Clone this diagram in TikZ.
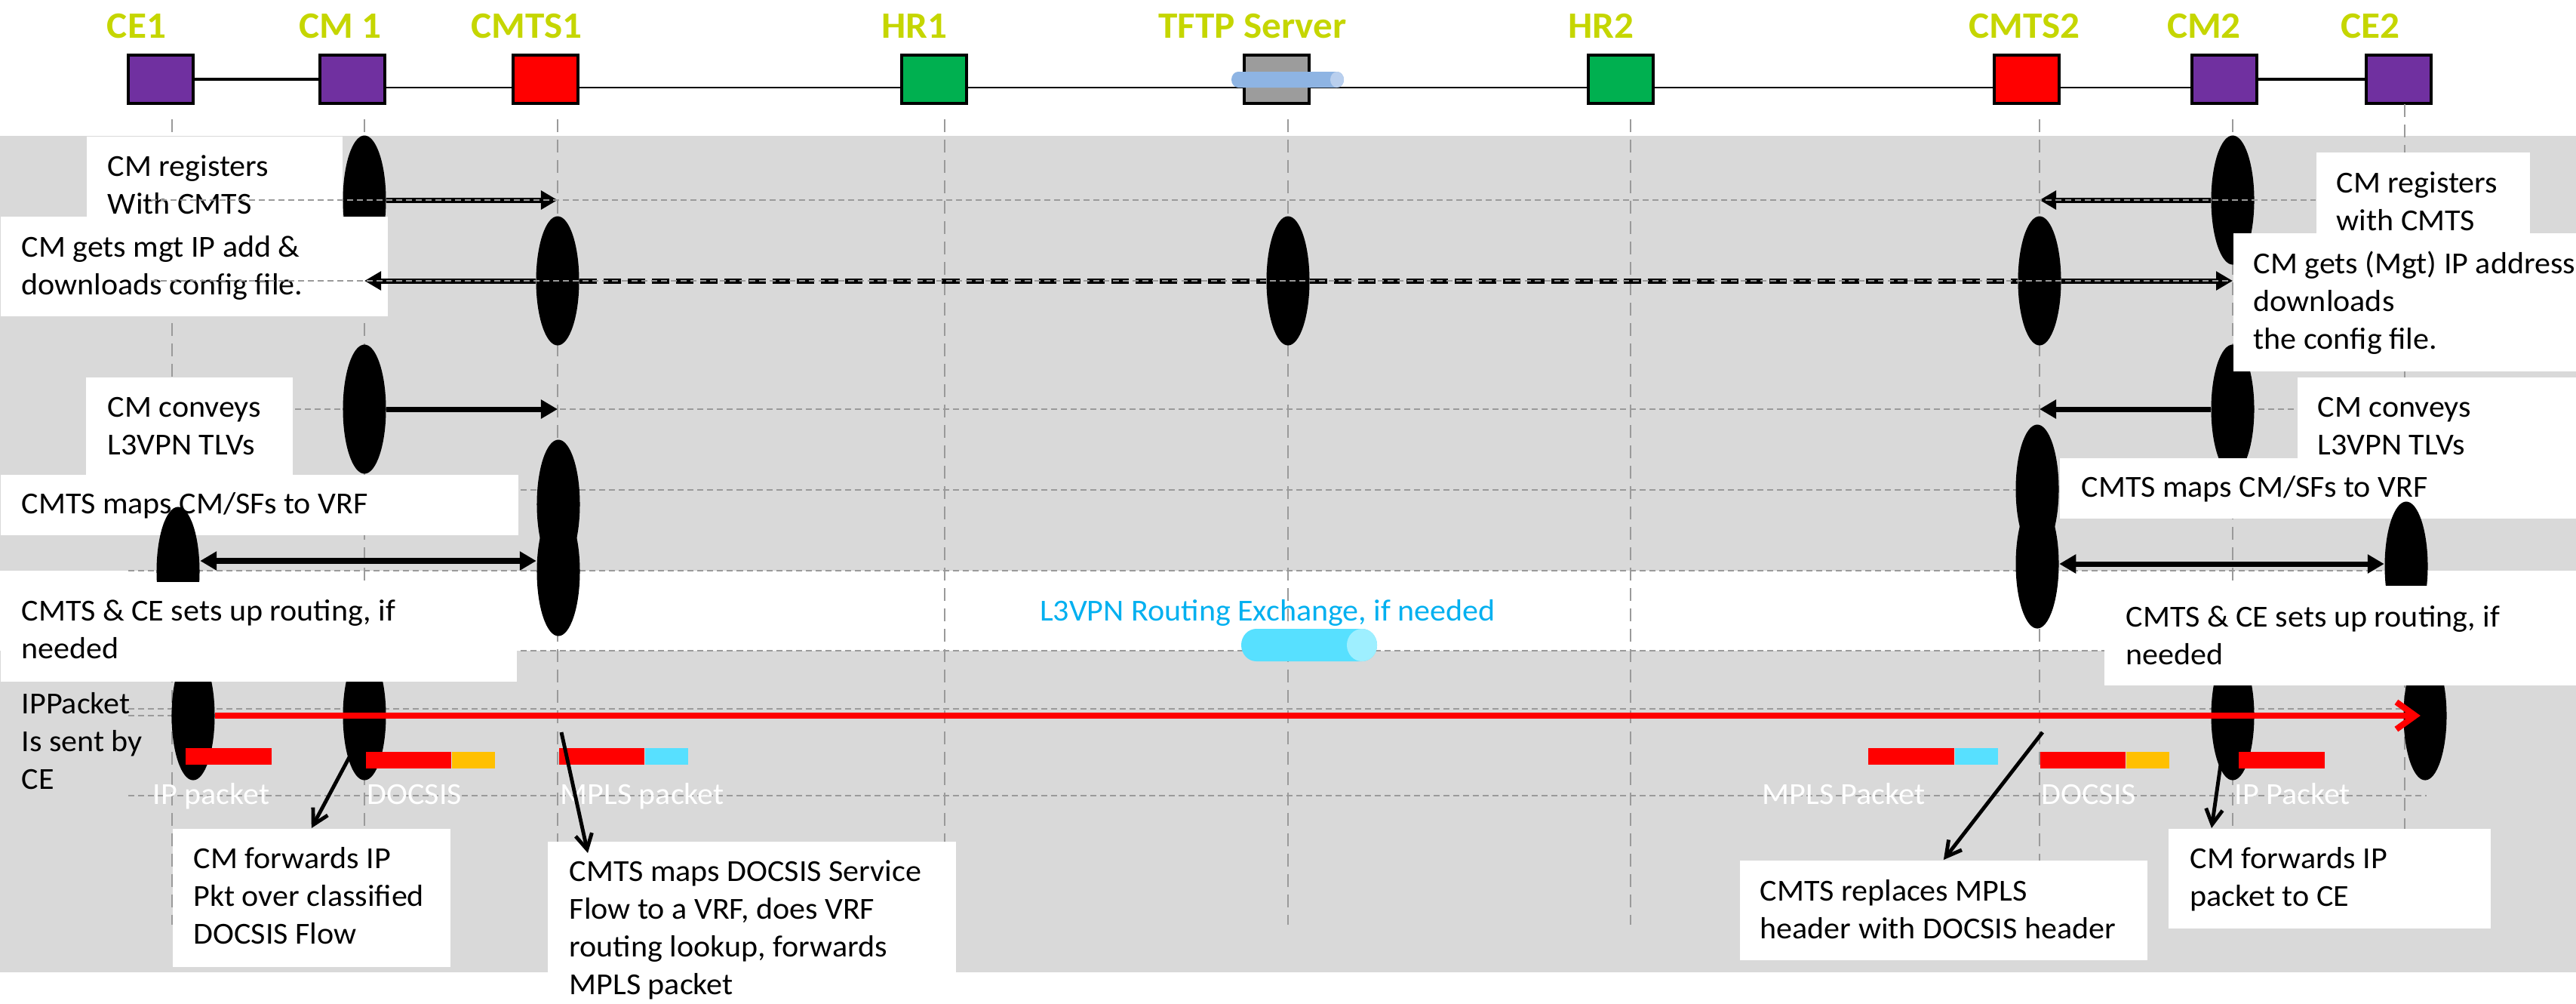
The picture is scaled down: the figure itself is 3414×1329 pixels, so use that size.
\documentclass[tikz,border=0pt]{standalone}
\usepackage{fontspec}
\setmainfont{Carlito}[FakeStretch=1.04]
\usetikzlibrary{shapes.geometric, arrows.meta, positioning, backgrounds}

\definecolor{bggray}{HTML}{D9D9D9}
\definecolor{rowgray}{HTML}{9A9A9A}
\definecolor{hdrgreen}{RGB}{197,214,0}
\definecolor{cmpurple}{HTML}{7030A0}
\definecolor{cmtsred}{HTML}{FF0000}
\definecolor{hrgreen}{HTML}{00B050}
\definecolor{srvgray}{HTML}{9C9C9C}
\definecolor{tftpblue}{HTML}{8EB4E3}
\definecolor{tftpcap}{HTML}{B9CFEE}
\definecolor{l3cyan}{HTML}{00B0F0}
\definecolor{cylcyan}{HTML}{57E0FF}
\definecolor{cylcap}{HTML}{9EEFFF}
\definecolor{docorange}{HTML}{FFC000}

\begin{document}
\begin{tikzpicture}[
		x=0.01cm, y=-0.01cm,
		font=\fontsize{11.5}{14.2}\selectfont,
		% Styles
		ent/.style={draw=black, line width=1pt, minimum width=0.86cm, minimum height=0.64cm, inner sep=0pt},
		hdr/.style={anchor=base, text=hdrgreen, font=\fontsize{14}{16}\selectfont\bfseries},
		life/.style={draw=rowgray, line width=0.5pt, dash pattern=on 0.17cm off 0.10cm},
		row/.style={draw=rowgray, line width=0.7pt, dash pattern=on 0.08cm off 0.05cm},
		act/.style={ellipse, fill=black, minimum width=0.57cm, minimum height=1.71cm, inner sep=0pt},
		wbox/.style={fill=white, anchor=north west, inner sep=0pt},
		txt/.style={anchor=base west, align=left, inner sep=0pt},
		pkt/.style={minimum height=0.22cm, inner sep=0pt},
		pktlbl/.style={anchor=base west, text=white, inner sep=0pt},
		msg/.style={line width=2pt, -{Triangle[length=0.22cm, width=0.24cm]}},
		msgboth/.style={line width=2pt, {Triangle[length=0.22cm, width=0.24cm]}-{Triangle[length=0.22cm, width=0.24cm]}},
		msgdash/.style={line width=2pt, dash pattern=on 0.23cm off 0.09cm},
		ipflow/.style={draw=red, line width=2.3pt, -{Straight Barb[length=0.25cm, width=0.36cm]}, shorten >=-0.23cm},
		callout/.style={line width=1.4pt, -{Straight Barb[length=0.2cm, width=0.22cm]}}
		]
		\useasboundingbox (0,0) rectangle (3414,1329);
		
		% =========================================================
		% 1. BACKGROUND BANDS
		% =========================================================
		\fill[bggray] (0,180) rectangle (3414,1288);
		\fill[white] (0,756) rectangle (3414,862);
		
		% =========================================================
		% 2. TOP ROW: the network elements
		% =========================================================
		\foreach \n/\x/\c in {ce1/213/cmpurple, cm1/467/cmpurple, cmts1/723/cmtsred, hr1/1238/hrgreen, tftp/1692/srvgray, hr2/2148/hrgreen, cmts2/2686/cmtsred, cm2/2948/cmpurple, ce2/3179/cmpurple}
		\node[ent, fill=\c] (\n) at (\x,105) {};
		
		\begin{scope}[on background layer]
			\draw[line width=1.3pt] (ce1) -- (cm1);
			\draw[line width=0.8pt] ([yshift=-0.11cm]cm1.east) -- ([yshift=-0.11cm]cm2.west);
			\draw[line width=1.3pt] (cm2) -- (ce2);
		\end{scope}
		
		% TFTP server drum
		\fill[tftpblue] (1641,95) -- (1772,95) arc[start angle=90, end angle=-90, x radius=0.09cm, y radius=0.105cm] -- (1641,116) arc[start angle=-90, end angle=-270, x radius=0.09cm, y radius=0.105cm] -- cycle;
		\fill[tftpcap] (1772,105.5) ellipse[x radius=0.09cm, y radius=0.105cm];
		
		\foreach \n/\t/\x in {ce1/CE1/181, cm1/CM 1/451, cmts1/CMTS1/698, hr1/HR1/1212, tftp/TFTP Server/1660, hr2/HR2/2122, cmts2/CMTS2/2683, cm2/CM2/2921, ce2/CE2/3141}
		\node[hdr] (\n-lbl) at (\x,50) {\t};
		
		% =========================================================
		% 3. LIFELINES AND ROWS
		% =========================================================
		\foreach \n/\x/\y in {ce1/228/158, cm1/483/158, cmts1/739/158, hr1/1252/158, tftp/1707/158, hr2/2161/158, cmts2/2703/158, cm2/2959/158, ce2/3187/138} {
			\coordinate (L-\n) at (\x,\y);
			\draw[life] (L-\n) -- (\x,1225);
		}
		\foreach \y in {542,649,756,862,939,948,1054}
		\draw[row] (170,\y) -- (3216,\y);
		
		% =========================================================
		% 4. STEPS: boxes and activations
		% (text nodes sit on the baseline of their last line)
		% =========================================================
		% Registration
		\node[wbox, minimum width=3.39cm, minimum height=1.06cm] (bA) at (114,180) {};
		\node[txt] (tA) at (142,283) {CM registers\\With CMTS};
		\node[wbox, minimum width=2.83cm, minimum height=1.07cm] (bC) at (3069,201) {};
		\node[txt] (tC) at (3096,305) {CM registers\\with CMTS};
		% L3VPN TLVs
		\node[wbox, minimum width=2.74cm, minimum height=1.29cm] (bE) at (113,499) {};
		\node[txt] (tE) at (142,602) {CM conveys\\L3VPN TLVs};
		\node[wbox, minimum width=3.70cm, minimum height=1.07cm] (bH) at (3044,499) {};
		\node[txt] (tH) at (3071,602) {CM conveys\\L3VPN TLVs};
		
		\node[act] (e1) at (483,265) {};
		\node[act] (e2) at (2959,265) {};
		\node[act] (e3) at (739,372) {};
		\node[act] (e4) at (1707,372) {};
		\node[act] (e5) at (2703,372) {};
		\node[act] (e6) at (483,542) {};
		\node[act] (e7) at (2959,542) {};
		
		% Config file and VRF mapping
		\node[wbox, minimum width=5.13cm, minimum height=1.32cm] (bB) at (0,286) {};
		\node[txt] (tB) at (28,390) {CM gets mgt IP add \&\\downloads config file.};
		\node[wbox, minimum width=4.55cm, minimum height=1.83cm] (bD) at (2959,308) {};
		\node[txt] (tD) at (2986,462) {CM gets (Mgt) IP address\\downloads\\the config file.};
		\node[wbox, minimum width=6.86cm, minimum height=0.80cm] (bF) at (0,628) {};
		\node[txt] (tF) at (28,680) {CMTS maps CM/SFs to VRF};
		\node[wbox, minimum width=6.85cm, minimum height=0.80cm] (bI) at (2729,606) {};
		\node[txt] (tI) at (2758,658) {CMTS maps CM/SFs to VRF};
		
		\node[act] (e8) at (740,668) {};
		\node[act] (e9) at (740,757) {};
		\node[act] (e10) at (2700,648) {};
		\node[act] (e11) at (2700,747) {};
		\node[act] (e12) at (236,757) {};
		\node[act] (e13) at (3189,750) {};
		\node[act] (e14) at (256,948) {};
		\node[act] (e15) at (483,948) {};
		\node[act] (e16) at (2959,948) {};
		\node[act] (e17) at (3214,948) {};
		
		% Routing and forwarding
		\node[wbox, minimum width=6.84cm, minimum height=1.32cm] (bG) at (0,770) {};
		\node[txt] (tG) at (28,872) {CMTS \& CE sets up routing, if\\needed};
		\node[wbox, minimum width=6.26cm, minimum height=1.32cm] (bJ) at (2788,775) {};
		\node[txt] (tJ) at (2817,880) {CMTS \& CE sets up routing, if\\needed};
		\node[txt] (tK) at (28,1045) {IPPacket\\Is sent by\\CE};
		\node[wbox, minimum width=3.68cm, minimum height=1.83cm] (bL) at (228,1097) {};
		\node[txt] (tL) at (256,1250) {CM forwards IP\\Pkt over classified\\DOCSIS Flow};
		\node[wbox, minimum width=5.41cm, minimum height=2.15cm] (bM) at (725,1114) {};
		\node[txt] (tM) at (754,1317) {CMTS maps DOCSIS Service\\Flow to a VRF, does VRF\\routing lookup, forwards\\MPLS packet};
		\node[wbox, minimum width=5.40cm, minimum height=1.32cm] (bN) at (2305,1139) {};
		\node[txt] (tN) at (2332,1243) {CMTS replaces MPLS\\header with DOCSIS header};
		\node[wbox, minimum width=4.27cm, minimum height=1.32cm] (bO) at (2873,1097) {};
		\node[txt] (tO) at (2902,1200) {CM forwards IP\\packet to CE};
		
		% =========================================================
		% 5. MESSAGES
		% =========================================================
		\draw[msg] (e1.east) -- (e1.east -| L-cmts1);
		\draw[msg] (e2.west) -- (e2.west -| L-cmts2);
		\draw[msg] (e3.west) -- (e3.west -| L-cm1);
		\draw[msgdash] (e3.east) -- (e4.west);
		\draw[msgdash] (e4.east) -- (e5.west);
		\draw[msg] (e5.east) -- (e5.east -| L-cm2);
		\draw[msg] (e6.east) -- (e6.east -| L-cmts1);
		\draw[msg] (e7.west) -- (e7.west -| L-cmts2);
		\draw[msgboth] ([yshift=0.14cm]e12.east) -- ([yshift=0.14cm]e9.west);
		\draw[msgboth] (e11.east) -- (e11.east -| e13.west);
		
		% L3VPN routing exchange
		\node[anchor=base, text=l3cyan] (l3txt) at (1680,822) {L3VPN Routing Exchange, if needed};
		\fill[cylcyan] (1665,833) -- (1805,833) arc[start angle=90, end angle=-90, x radius=0.2cm, y radius=0.215cm] -- (1665,876) arc[start angle=-90, end angle=-270, x radius=0.2cm, y radius=0.215cm] -- cycle;
		\fill[cylcap] (1805,854.5) ellipse[x radius=0.2cm, y radius=0.215cm];
		
		% =========================================================
		% 6. DATA PATH: packets along the way
		% =========================================================
		\draw[ipflow] (e14.east) -- (e17.west);
		
		\node[pkt, fill=red, minimum width=1.14cm, anchor=north west] (ipL) at (245,990) {};
		\node[pkt, fill=red, minimum width=1.13cm, anchor=north west] (docL) at (484,995) {};
		\node[pkt, fill=docorange, minimum width=0.57cm, right=0pt of docL] (docLh) {};
		\node[pkt, fill=red, minimum width=1.13cm, anchor=north west] (mplsL) at (740,990) {};
		\node[pkt, fill=cylcyan, minimum width=0.57cm, right=0pt of mplsL] (mplsLh) {};
		\node[pkt, fill=red, minimum width=1.14cm, anchor=north west] (mplsR) at (2475,990) {};
		\node[pkt, fill=cylcyan, minimum width=0.57cm, right=0pt of mplsR] (mplsRh) {};
		\node[pkt, fill=red, minimum width=1.13cm, anchor=north west] (docR) at (2703,995) {};
		\node[pkt, fill=docorange, minimum width=0.57cm, right=0pt of docR] (docRh) {};
		\node[pkt, fill=red, minimum width=1.14cm, anchor=north west] (ipR) at (2966,995) {};
		
		\node[pktlbl] (ipLlbl) at (202,1065) {IP packet};
		\node[pktlbl] (docLlbl) at (486,1065) {DOCSIS};
		\node[pktlbl] (mplsLlbl) at (742,1065) {MPLS packet};
		\node[pktlbl] (mplsRlbl) at (2335,1065) {MPLS Packet};
		\node[pktlbl] (docRlbl) at (2705,1065) {DOCSIS};
		\node[pktlbl] (ipRlbl) at (2961,1065) {IP Packet};
		
		\coordinate (c-docL) at (463,1003);
		\coordinate (c-mplsL) at (744,970);
		\coordinate (c-mplsR) at (2707,970);
		\coordinate (c-ipR) at (2943,1013);
		\draw[callout] (c-docL) -- (bL.north);
		\draw[callout] (c-mplsL) -- ([xshift=0.54cm, yshift=-0.16cm]bM.north west);
		\draw[callout] (c-mplsR) -- (bN.north);
		\draw[callout] (c-ipR) -- ([xshift=0.58cm]bO.north west);
		
		% rows over the first steps
		\draw[row] (200,265) -- (3069,265);
		\draw[row] (200,372) -- (2959,372);
		
	\end{tikzpicture}
\end{document}
